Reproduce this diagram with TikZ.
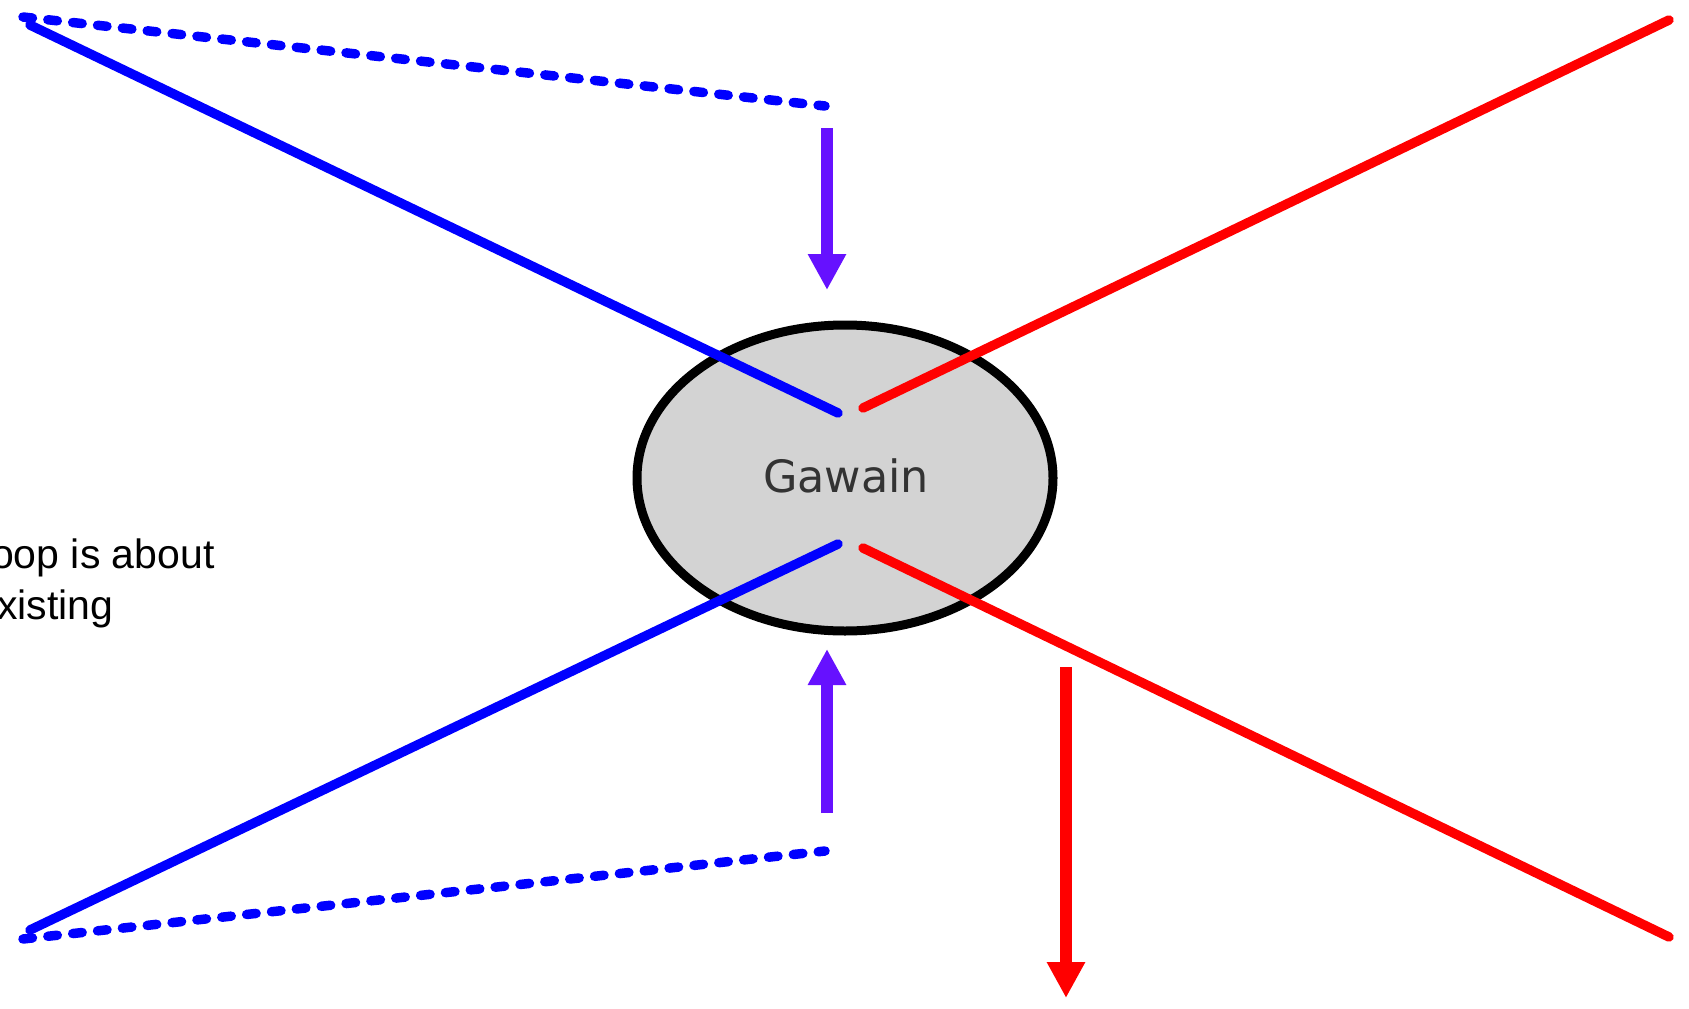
\documentclass[tikz,border=0pt]{standalone}
\usepackage{fontspec}
\setmainfont{Liberation Sans}
\newfontfamily\gawfont{DejaVu Sans}
\usetikzlibrary{arrows.meta,shapes.geometric}
\definecolor{myblue}{RGB}{0,0,255}
\definecolor{myred}{RGB}{255,0,0}
\definecolor{mypurple}{RGB}{102,17,255}
\definecolor{mygray}{RGB}{211,211,211}
\definecolor{mytext}{RGB}{51,51,51}
\tikzset{
  bluel/.style={draw=myblue, line width=9.5pt, line cap=round},
  redl/.style={draw=myred, line width=9.5pt, line cap=round},
  dashl/.style={draw=myblue, line width=9.5pt, line cap=round, dash pattern=on 9.5pt off 15.5pt},
  bigarrow/.style={line width=12pt, -{Triangle[width=36pt,length=36pt]}},
  person/.style={ellipse, draw=black, line width=9pt, fill=mygray, minimum width=416pt, minimum height=306pt, inner sep=0pt},
  cuttext/.style={font=\fontsize{41}{49}\selectfont, anchor=base west, inner sep=0pt, text=black}
}
\begin{document}
\begin{tikzpicture}[x=1pt,y=-1pt]
\useasboundingbox (0,0) rectangle (1689,1009);
\clip (0,0) rectangle (1689,1009);
\node[person] (g) at (845,478) {};
\node[font=\gawfont\fontsize{44.5}{52}\selectfont, text=mytext, anchor=base, inner sep=0pt] (gl) at (846,492) {Gawain};
% text cut at left edge
\node[cuttext] (t1) at (-9,568) {oop is about};
\node[cuttext] (t2) at (-3,619) {xisting};
% coordinates
\coordinate (ul) at (30,25);
\coordinate (ulc) at (838,413);
\coordinate (ur) at (1669,20);
\coordinate (urc) at (863,408);
\coordinate (ll) at (30,930);
\coordinate (llc) at (838,544);
\coordinate (lr) at (1669,937);
\coordinate (lrc) at (863,548);
\coordinate (d1a) at (23,17);
\coordinate (d1b) at (825,106);
\coordinate (d2a) at (23,939);
\coordinate (d2b) at (825,851);
\coordinate (a1s) at (827,128);
\coordinate (a1e) at (827,290);
\coordinate (a2s) at (827,813);
\coordinate (a2e) at (827,649);
\coordinate (a3s) at (1066,667);
\coordinate (a3e) at (1066,998);
% lines
\draw[bluel] (ul) -- (ulc);
\draw[bluel] (ll) -- (llc);
\draw[redl] (ur) -- (urc);
\draw[redl] (lr) -- (lrc);
\draw[dashl] (d1a) -- (d1b);
\draw[dashl] (d2a) -- (d2b);
% arrows
\draw[bigarrow, draw=mypurple, fill=mypurple] (a1s) -- (a1e);
\draw[bigarrow, draw=mypurple, fill=mypurple] (a2s) -- (a2e);
\draw[bigarrow, draw=myred, fill=myred] (a3s) -- (a3e);
\end{tikzpicture}
\end{document}
